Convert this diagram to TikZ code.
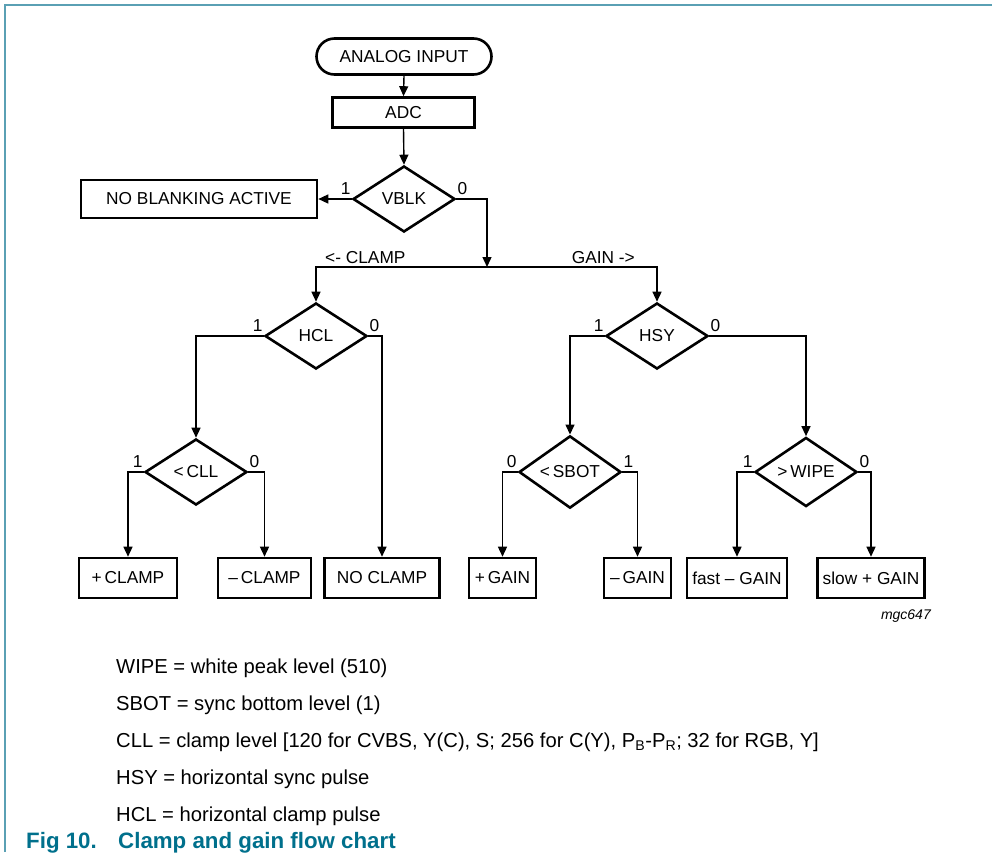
\documentclass[tikz,border=0pt]{standalone}
\usepackage{fontspec}
\setmainfont{Liberation Sans}
\usetikzlibrary{shapes.geometric,arrows.meta,calc}
\definecolor{framecol}{RGB}{90,160,180}
\definecolor{capcol}{RGB}{0,112,140}
\begin{document}
\begin{tikzpicture}[x=1pt,y=-1pt,
  boxtxt/.style={font=\fontsize{17.3}{20}\selectfont},
  box/.style={boxtxt,draw,line width=2.6pt,inner sep=0pt,minimum height=40pt},
  dec/.style={boxtxt,draw,diamond,line width=2.6pt,inner sep=0pt,minimum width=102pt,minimum height=66pt},
  conn/.style={line width=1.4pt,-{Triangle[length=10pt,width=9pt]}},
  lbl/.style={boxtxt,inner sep=0pt},
  legend/.style={font=\fontsize{20.2}{23}\selectfont,inner sep=0pt,anchor=base west},
  captxt/.style={font=\fontsize{22.3}{25}\selectfont\bfseries,text=capcol,inner sep=0pt,anchor=base west}
]
\useasboundingbox (0,0) rectangle (992,852);
% frame
\draw[framecol,line width=2pt] (5,852) -- (5,5) -- (992,5);

% nodes
\node[box,rounded corners=18pt,minimum width=175pt,minimum height=36pt] (ai) at (404,56.5) {ANALOG INPUT};
\node[box,minimum width=142pt,minimum height=30pt] (adc) at (403.5,112.5) {ADC};
\node[dec] (vblk) at (404,199) {VBLK};
\node[box,minimum width=236pt,minimum height=38pt] (nba) at (199,199) {NO BLANKING ACTIVE};
\coordinate (split) at (487,267);
\node[dec] (hcl) at (316,336) {HCL};
\node[dec] (hsy) at (657,336) {HSY};
\node[dec] (cll) at (196,472) {<\,CLL};
\node[dec] (sbot) at (570,472) {<\,SBOT};
\node[dec] (wipe) at (806,472) {>\,WIPE};

\node[box,minimum width=98pt] (pclamp) at (128,578) {+\,CLAMP};
\node[box,minimum width=93pt] (mclamp) at (264.5,578) {–\,CLAMP};
\node[box,minimum width=115pt] (noclamp) at (382,578) {NO CLAMP};
\node[box,minimum width=67pt] (pgain) at (502.5,578) {+\,GAIN};
\node[box,minimum width=67pt] (mgain) at (637.5,578) {–\,GAIN};
\node[box,minimum width=100pt] (fast) at (737,578) {fast – GAIN};
\node[box,minimum width=107pt] (slow) at (871,578) {slow + GAIN};

% connectors
\draw[conn] (ai.south) -- (adc.north);
\draw[conn] (adc.south) -- (vblk.north);
\draw[conn] (vblk.west) -- (nba.east);
\draw[conn] (vblk.east) -| (split);
\draw[conn] (split) -| (hcl.north);
\draw[conn] (split) -| (hsy.north);
\draw[conn] (hcl.west) -| (cll.north);
\draw[conn] (hcl.east) -| (noclamp.north);
\draw[conn] (hsy.west) -| (sbot.north);
\draw[conn] (hsy.east) -| (wipe.north);
\draw[conn] (cll.west) -| (pclamp.north);
\draw[conn] (cll.east) -| (mclamp.north);
\draw[conn] (sbot.west) -| (pgain.north);
\draw[conn] (sbot.east) -| (mgain.north);
\draw[conn] (wipe.west) -| (fast.north);
\draw[conn] (wipe.east) -| (slow.north);

% branch labels
\node[lbl,anchor=south east] at ($(vblk.west)+(-1,-4)$) {1};
\node[lbl,anchor=south west] at ($(vblk.east)+(1,-4)$) {0};
\node[lbl,anchor=south east] at ($(hcl.west)+(-1,-4)$) {1};
\node[lbl,anchor=south west] at ($(hcl.east)+(1,-4)$) {0};
\node[lbl,anchor=south east] at ($(hsy.west)+(-1,-4)$) {1};
\node[lbl,anchor=south west] at ($(hsy.east)+(1,-4)$) {0};
\node[lbl,anchor=south east] at ($(cll.west)+(-1,-4)$) {1};
\node[lbl,anchor=south west] at ($(cll.east)+(1,-4)$) {0};
\node[lbl,anchor=south east] at ($(sbot.west)+(-1,-4)$) {0};
\node[lbl,anchor=south west] at ($(sbot.east)+(1,-4)$) {1};
\node[lbl,anchor=south east] at ($(wipe.west)+(-1,-4)$) {1};
\node[lbl,anchor=south west] at ($(wipe.east)+(1,-4)$) {0};

\node[lbl,anchor=base west] (lclamp) at (325,263) {<- CLAMP};
\node[lbl,anchor=base east] (lgain) at (635,263) {GAIN ->};

\node[inner sep=0pt,anchor=base east,font=\fontsize{14}{16}\selectfont\itshape] (code) at (931,619) {mgc647};

% legend
\node[legend] (l1) at (116,673) {WIPE = white peak level (510)};
\node[legend] (l2) at (116,710) {SBOT = sync bottom level (1)};
\node[legend] (l3) at (116,747) {CLL = clamp level [120 for CVBS, Y(C), S; 256 for C(Y), P\textsubscript{B}-P\textsubscript{R}; 32 for RGB, Y]};
\node[legend] (l4) at (116,784) {HSY = horizontal sync pulse};
\node[legend] (l5) at (116,821) {HCL = horizontal clamp pulse};

% caption
\node[captxt] (fig) at (26,848) {Fig 10.};
\node[captxt] (captitle) at (118,848) {Clamp and gain flow chart};
\end{tikzpicture}
\end{document}
